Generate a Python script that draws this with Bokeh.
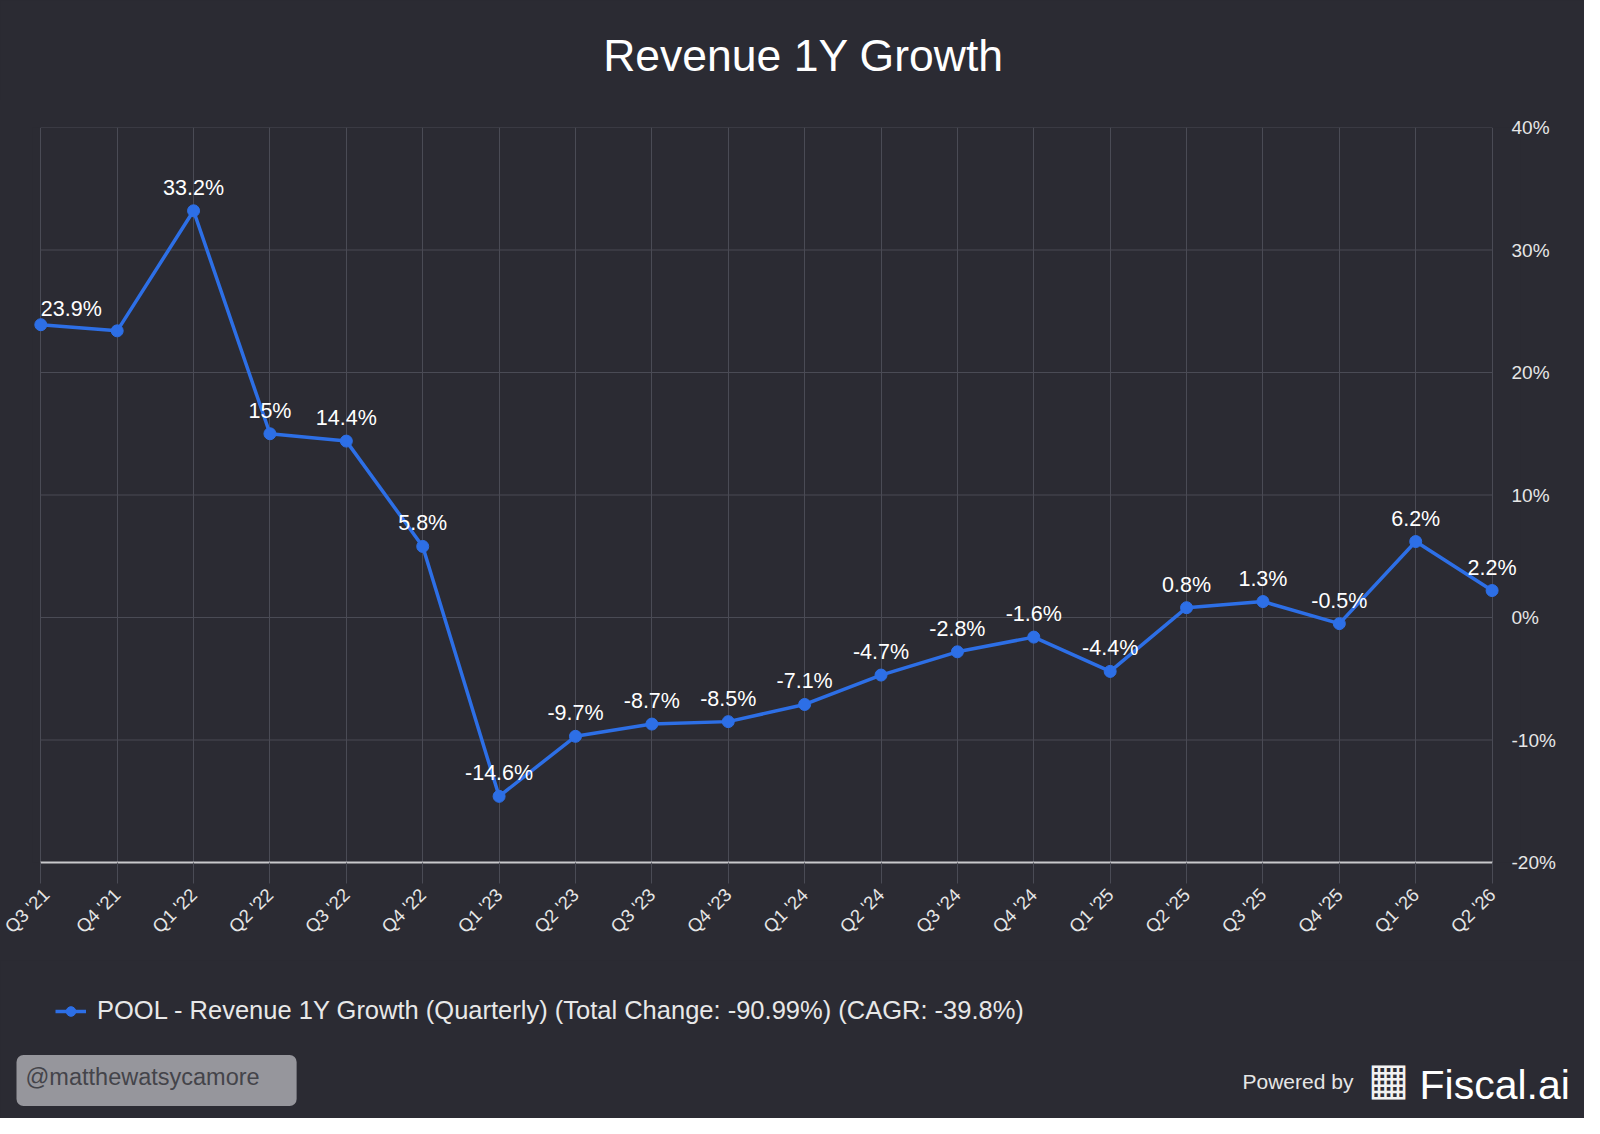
import math
from bokeh.plotting import figure
from bokeh.layouts import column
from bokeh.models import (Range1d, FixedTicker, Label, LabelSet, ColumnDataSource,
                          Legend, LegendItem)
from bokeh.core.properties import value
from bokeh.embed import file_html
from bokeh.resources import INLINE

# ---------------- data ----------------
quarters = ["Q3 '21", "Q4 '21", "Q1 '22", "Q2 '22", "Q3 '22", "Q4 '22", "Q1 '23", "Q2 '23",
            "Q3 '23", "Q4 '23", "Q1 '24", "Q2 '24", "Q3 '24", "Q4 '24", "Q1 '25", "Q2 '25",
            "Q3 '25", "Q4 '25", "Q1 '26", "Q2 '26"]
growth = [23.9, 23.4, 33.2, 15.0, 14.4, 5.8, -14.6, -9.7, -8.7, -8.5, -7.1, -4.7, -2.8,
          -1.6, -4.4, 0.8, 1.3, -0.5, 6.2, 2.2]
shown_labels = [True, False] + [True] * 18
y_ticks = [-20, -10, 0, 10, 20, 30, 40]
y_tick_labels = ["-20%", "-10%", "0%", "10%", "20%", "30%", "40%"]
title_text = "Revenue 1Y Growth"
legend_text = "POOL - Revenue 1Y Growth (Quarterly) (Total Change: -90.99%) (CAGR: -39.8%)"
watermark = "@matthewatsycamore"

# ---------------- style ----------------
BG = "#2b2b33"
GRID = "#4a4b55"
BLUE = "#2d6fe6"
FONT = "Liberation Sans"
W = 1584
H_HEAD, H_MAIN, H_FOOT = 100, 860, 158
BG_STYLE = {"background-color": BG}

x_idx = list(range(len(quarters)))
labels = [f"{v:g}%" if s else "" for v, s in zip(growth, shown_labels)]
source = ColumnDataSource(dict(x=x_idx, y=growth, label=labels))


def panel(height, y_top):
    f = figure(width=W, height=height, output_backend="svg", toolbar_location=None,
               x_range=Range1d(0, W), y_range=Range1d(y_top + height, y_top),
               x_axis_location=None, y_axis_location=None,
               min_border=0, background_fill_color=BG, border_fill_color=None,
               outline_line_color=None, styles=BG_STYLE, frame_align=False)
    f.grid.visible = False
    return f


# ---------------- header ----------------
head = panel(H_HEAD, 0)
head.add_layout(Label(x=803, y=55, text=title_text, text_align="center",
                      text_baseline="alphabetic", text_font=FONT, text_font_size="44.5px",
                      text_color="#ffffff"))

# ---------------- main chart ----------------
FL, FR = 32, 1520
unit = 76.38
pad_l = (40.3 - FL) / unit
pad_r = (FR - 1491.6) / unit

p = figure(width=W, height=H_MAIN, output_backend="svg", toolbar_location=None,
           x_range=Range1d(-pad_l, len(quarters) - 1 + pad_r),
           y_range=Range1d(y_ticks[0], y_ticks[-1]),
           y_axis_location="right",
           min_border_left=FL, min_border_right=W - FR, min_border_top=27, min_border_bottom=98,
           background_fill_color=BG, border_fill_color=None, outline_line_color=None,
           styles=BG_STYLE, frame_align=False)

p.xgrid.ticker = FixedTicker(ticks=x_idx)
p.xgrid.grid_line_color = GRID
p.xgrid.grid_line_width = 1
p.ygrid.grid_line_color = None
p.segment(x0=[x_idx[0]] * len(y_ticks), x1=[x_idx[-1]] * len(y_ticks), y0=y_ticks, y1=y_ticks,
          line_color=GRID, line_width=1)

xa = p.xaxis[0]
xa.ticker = FixedTicker(ticks=x_idx)
xa.major_label_overrides = {i: q for i, q in zip(x_idx, quarters)}
xa.bounds = (x_idx[0], x_idx[-1])
xa.axis_line_color = "#c9c9cc"
xa.axis_line_width = 2
xa.major_tick_line_color = GRID
xa.major_tick_out = 21
xa.major_tick_in = 0
xa.minor_tick_line_color = None
xa.major_label_orientation = math.pi / 4
xa.major_label_standoff = 8
xa.major_label_text_font = FONT
xa.major_label_text_font_size = "18.5px"
xa.major_label_text_color = "#e6e6e6"

ya = p.yaxis[0]
ya.ticker = FixedTicker(ticks=y_ticks)
ya.major_label_overrides = {t: l for t, l in zip(y_ticks, y_tick_labels)}
ya.axis_line_color = None
ya.major_tick_line_color = None
ya.minor_tick_line_color = None
ya.major_tick_out = 0
ya.major_tick_in = 0
ya.major_label_standoff = -9
ya.major_label_text_font = FONT
ya.major_label_text_font_size = "19px"
ya.major_label_text_color = "#e6e6e6"

p.line("x", "y", source=source, line_color=BLUE, line_width=3.5)
p.scatter("x", "y", source=source, size=12, fill_color=BLUE, line_color=BLUE)

first_src = ColumnDataSource(dict(x=x_idx[:1], y=growth[:1], label=labels[:1]))
rest_src = ColumnDataSource(dict(x=x_idx[1:], y=growth[1:], label=labels[1:]))
p.add_layout(LabelSet(x="x", y="y", text="label", source=first_src, text_align="left",
                      text_baseline="alphabetic", y_offset=9, text_font=value(FONT),
                      text_font_size=value("21.5px"), text_color="#ffffff"))
p.add_layout(LabelSet(x="x", y="y", text="label", source=rest_src, text_align="center",
                      text_baseline="alphabetic", y_offset=16, text_font=value(FONT),
                      text_font_size=value("21.5px"), text_color="#ffffff"))

# ---------------- footer ----------------
Y0 = H_HEAD + H_MAIN
foot = panel(H_FOOT, Y0)
# legend swatch renderers (kept off-screen; the legend draws their glyph style)
dl = foot.line(x=[-50, -40], y=[Y0 - 50, Y0 - 50], line_color=BLUE, line_width=3.5)
ds = foot.scatter(x=[-50], y=[Y0 - 50], size=12, fill_color=BLUE, line_color=BLUE)
legend = Legend(items=[LegendItem(label=legend_text, renderers=[dl, ds])],
                location=(55, Y0 + H_FOOT - 1025), orientation="horizontal",
                background_fill_alpha=0, border_line_color=None, padding=0, margin=0,
                glyph_width=31, glyph_height=24, label_height=24, label_standoff=11,
                label_text_font=FONT, label_text_font_size="25.5px", label_text_color="#e8e8e8")
foot.add_layout(legend, "center")

foot.add_layout(Label(x=16, y=1080, text=watermark, text_align="left", text_baseline="middle",
                      text_font=FONT, text_font_size="23.5px", text_color="#44444a",
                      background_fill_color="#96969c", border_radius=7,
                      padding=(9, 37, 9, 16)))
foot.add_layout(Label(x=1242, y=1081, text="Powered by", text_align="left",
                      text_baseline="alphabetic", text_font=FONT, text_font_size="21px",
                      text_color="#e6e6e6"))
foot.add_layout(Label(x=1388, y=1078, text="\u25a6", text_align="center", text_baseline="middle",
                      text_font="DejaVu Sans", text_font_size="44px", text_color="#f2f2f2"))
foot.add_layout(Label(x=1419, y=1084, text="Fiscal.ai", text_align="left",
                      text_baseline="alphabetic", text_font=FONT, text_font_size="41px",
                      text_color="#ffffff"))

layout = column(head, p, foot, spacing=0, styles=BG_STYLE)
open("out.html", "w").write(file_html(layout, INLINE))
